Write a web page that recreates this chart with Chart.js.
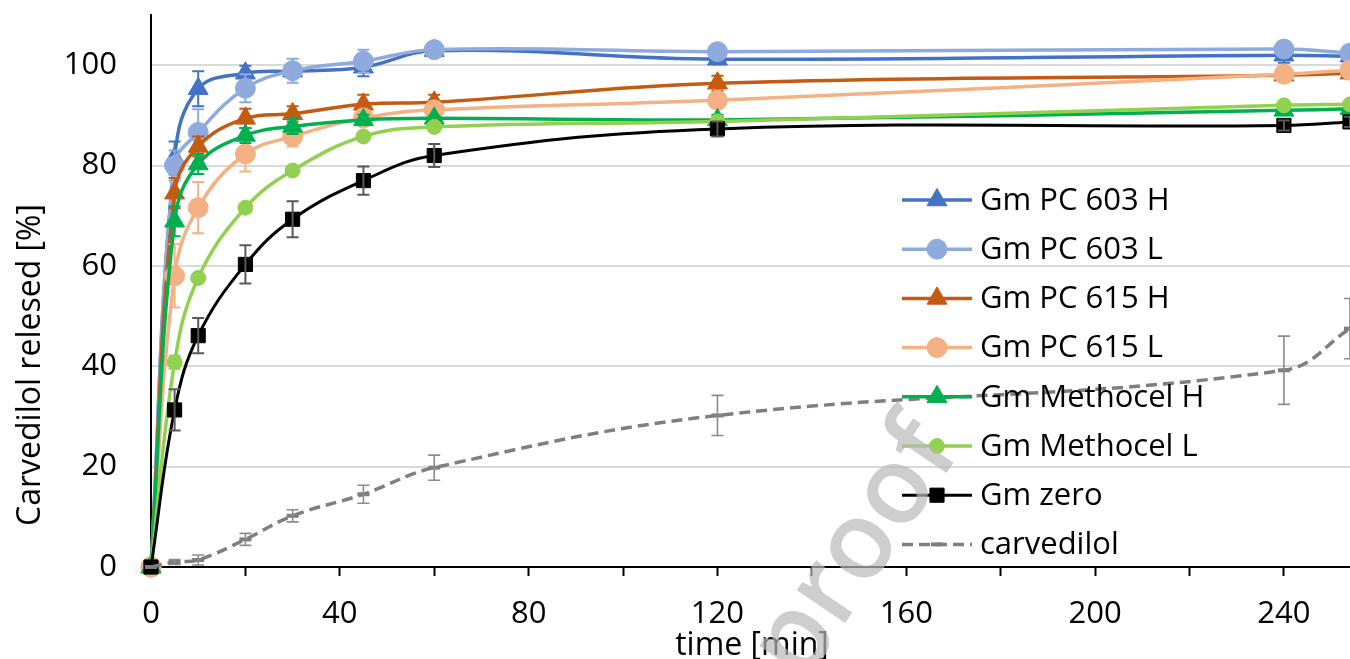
<!DOCTYPE html>
<html>
<head>
<meta charset="utf-8">
<title>Carvedilol release</title>
<script src="https://cdn.jsdelivr.net/npm/chart.js@4"></script>
<style>
  html, body { margin: 0; padding: 0; background: #fff; overflow: hidden; }
  #wrap { width: 1350px; height: 659px; }
</style>
</head>
<body>
<div id="wrap"><canvas id="release"></canvas></div>
<script>
// sampling times [min]
const times = [0, 5, 10, 20, 30, 45, 60, 120, 240, 254];

const seriesNames = ['Gm PC 603 H', 'Gm PC 603 L', 'Gm PC 615 H', 'Gm PC 615 L',
                     'Gm Methocel H', 'Gm Methocel L', 'Gm zero', 'carvedilol'];

// released carvedilol [%]
const pc603H    = [0, 81.5, 95.3, 98.4, 98.8, 99.6, 102.9, 101.2, 102.0, 101.8];
const pc603L    = [0, 80.0, 86.6, 95.4, 98.9, 100.8, 103.1, 102.7, 103.2, 102.4];
const pc615H    = [0, 74.5, 83.8, 89.4, 90.3, 92.2, 92.6, 96.4, 98.0, 98.4];
const pc615L    = [0, 58.0, 71.6, 82.3, 85.8, 89.5, 91.1, 93.0, 98.2, 99.0];
const methocelH = [0, 68.9, 80.3, 86.0, 87.8, 89.1, 89.4, 89.1, 91.0, 91.3];
const methocelL = [0, 40.8, 57.6, 71.6, 79.0, 85.8, 87.7, 88.8, 92.0, 92.2];
const gmZero    = [0, 31.3, 46.1, 60.3, 69.3, 77.0, 82.0, 87.3, 88.0, 88.7];
const carvedilol = [0, 1.0, 1.4, 5.5, 10.2, 14.5, 19.8, 30.2, 39.2, 47.5];

// standard deviations (error bars)
const pc603HErr    = [0, 3.3, 3.5, 1.5, 1.0, 1.8, 1.0, 1.0, 1.5, 1.0];
const pc603LErr    = [0, 3.0, 4.6, 2.8, 2.4, 2.3, 1.0, 0.5, 1.5, 1.0];
const pc615HErr    = [0, 3.0, 2.0, 1.9, 1.5, 1.9, 1.5, 1.5, 1.0, 1.0];
const pc615LErr    = [0, 6.3, 5.1, 3.5, 2.0, 1.5, 1.0, 1.0, 1.0, 1.0];
const methocelHErr = [0, 3.0, 2.0, 1.5, 1.5, 1.0, 0.5, 1.0, 0.5, 0.5];
const methocelLErr = [0, 1.3, 0.8, 0.8, 0.8, 0.8, 0.8, 0.8, 0.8, 0.8];
const gmZeroErr    = [0, 4.1, 3.5, 3.8, 3.6, 2.8, 2.3, 1.5, 1.0, 1.0];
const carvedilolErr = [0, 0.5, 1.0, 1.2, 1.2, 1.8, 2.5, 4.0, 6.8, 6.0];

const xTickLabels = [0, 40, 80, 120, 160, 200, 240];

const FONT = "'Open Sans', 'DejaVu Sans', sans-serif";

function pts(vals) {
  return times.map((t, i) => ({ x: t, y: vals[i] }));
}

function series(name, vals, errs, color, errColor, style, radius, extra) {
  return Object.assign({
    label: name,
    data: pts(vals),
    errors: errs,
    errColor: errColor,
    borderColor: color,
    backgroundColor: color,
    pointBackgroundColor: color,
    pointBorderColor: color,
    pointBorderWidth: 1,
    pointStyle: style,
    pointRadius: radius,
    borderWidth: 3.5,
    tension: 0.4,
    clip: false
  }, extra || {});
}

const datasets = [
  series(seriesNames[0], pc603H, pc603HErr, '#4472C4', '#4472C4', 'triangle', 11.5),
  series(seriesNames[1], pc603L, pc603LErr, '#8FAADC', '#8FAADC', 'circle', 10),
  series(seriesNames[2], pc615H, pc615HErr, '#C55A11', '#C55A11', 'triangle', 11.5),
  series(seriesNames[3], pc615L, pc615LErr, '#F4B183', '#F4B183', 'circle', 10),
  series(seriesNames[4], methocelH, methocelHErr, '#00B050', '#00B050', 'triangle', 11.5),
  series(seriesNames[5], methocelL, methocelLErr, '#92D050', '#92D050', 'circle', 7.5),
  series(seriesNames[6], gmZero, gmZeroErr, '#000000', '#595959', 'rect', 10, { borderWidth: 3 }),
  series(seriesNames[7], carvedilol, carvedilolErr, '#7F7F7F', '#8C8C8C', 'line', 6,
         { borderDash: [11, 6], pointBorderWidth: 4 })
];
// later series sit on top, like in the original
datasets.forEach((d, i) => { d.order = datasets.length - i; });

function drawMarker(ctx, ds, x, y) {
  const opts = {
    pointStyle: ds.pointStyle, radius: ds.pointRadius, rotation: 0,
    borderWidth: ds.pointBorderWidth
  };
  ctx.save();
  ctx.fillStyle = ds.pointBackgroundColor;
  ctx.strokeStyle = ds.pointBorderColor;
  ctx.lineWidth = ds.pointBorderWidth;
  Chart.helpers.drawPoint(ctx, opts, x, y);
  ctx.restore();
}

const errorBars = {
  id: 'errorBars',
  afterDatasetDraw(chart, args) {
    const ds = chart.data.datasets[args.index];
    if (!ds.errors) return;
    const ctx = chart.ctx, xs = chart.scales.x, ys = chart.scales.y;
    ctx.save();
    ctx.strokeStyle = ds.errColor;
    ctx.lineWidth = args.index === 7 ? 1.6 : 2;
    ds.data.forEach((p, i) => {
      const e = ds.errors[i];
      if (!e) return;
      const px = xs.getPixelForValue(p.x);
      const top = ys.getPixelForValue(p.y + e);
      const bot = ys.getPixelForValue(p.y - e);
      ctx.beginPath();
      ctx.moveTo(px, top); ctx.lineTo(px, bot);
      ctx.moveTo(px - 6, top); ctx.lineTo(px + 6, top);
      ctx.moveTo(px - 6, bot); ctx.lineTo(px + 6, bot);
      ctx.stroke();
    });
    ctx.restore();
  }
};

const sideLegend = {
  id: 'sideLegend',
  afterDatasetsDraw(chart) {
    const ctx = chart.ctx;
    const x0 = 902, x1 = 972, yTop = 200, step = 49.2;
    chart.data.datasets.forEach((ds, i) => {
      const y = yTop + i * step;
      ctx.save();
      ctx.strokeStyle = ds.borderColor;
      ctx.lineWidth = ds.borderWidth;
      if (ds.borderDash) ctx.setLineDash(ds.borderDash);
      ctx.beginPath();
      ctx.moveTo(x0, y); ctx.lineTo(x1, y);
      ctx.stroke();
      ctx.restore();
      drawMarker(ctx, ds, (x0 + x1) / 2, y);
      ctx.save();
      ctx.fillStyle = '#000';
      ctx.font = '31px ' + FONT;
      ctx.textBaseline = 'middle';
      ctx.textAlign = 'left';
      ctx.fillText(ds.label, 980, y + 1);
      ctx.restore();
    });
  }
};

const titlesAndMark = {
  id: 'titlesAndMark',
  afterDraw(chart) {
    const ctx = chart.ctx;
    ctx.save();
    ctx.fillStyle = '#000';
    ctx.font = '32px ' + FONT;
    ctx.textAlign = 'center';
    ctx.textBaseline = 'alphabetic';
    ctx.fillText('time [min]', 752, 655);
    ctx.translate(40, 365);
    ctx.rotate(-Math.PI / 2);
    ctx.fillText('Carvedilol relesed [%]', 0, 0);
    ctx.restore();

    // pre-proof watermark
    ctx.save();
    ctx.globalAlpha = 0.7;
    ctx.fillStyle = 'rgb(185,185,185)';
    ctx.font = '600 108px ' + FONT;
    ctx.textAlign = 'right';
    ctx.textBaseline = 'alphabetic';
    ctx.translate(962, 450);
    ctx.rotate(-56 * Math.PI / 180);
    ctx.fillText('Journal Pre-proof', 0, 0);
    ctx.restore();
  }
};

new Chart(document.getElementById('release'), {
  type: 'line',
  data: { datasets: datasets },
  options: {
    responsive: true,
    maintainAspectRatio: false,
    animation: false,
    layout: { autoPadding: false, padding: { top: 15, right: 0, left: 0, bottom: 0 } },
    plugins: { legend: { display: false }, tooltip: { enabled: false } },
    font: { family: FONT },
    scales: {
      x: {
        type: 'linear',
        min: 0,
        max: 254,
        afterFit(scale) {
          scale.height = 92;
          scale.paddingLeft = 0;
          scale.paddingRight = 0;
        },
        border: { color: '#000', width: 2 },
        grid: { drawOnChartArea: false, drawTicks: true, tickLength: 9, tickColor: '#000', tickWidth: 2 },
        ticks: {
          stepSize: 20,
          autoSkip: false,
          maxRotation: 0,
          includeBounds: false,
          padding: 20,
          color: '#000',
          font: { family: FONT, size: 31 },
          callback: v => xTickLabels.includes(v) ? String(v) : ''
        }
      },
      y: {
        min: 0,
        max: 110,
        afterFit(scale) {
          scale.width = 151;
          scale.paddingTop = 0;
          scale.paddingBottom = 0;
        },
        border: { color: '#000', width: 2 },
        grid: { color: '#D9D9D9', lineWidth: 2, drawTicks: false },
        ticks: {
          stepSize: 20,
          includeBounds: false,
          padding: 34,
          color: '#000',
          font: { family: FONT, size: 31 }
        }
      }
    }
  },
  plugins: [errorBars, sideLegend, titlesAndMark]
});
</script>
</body>
</html>
